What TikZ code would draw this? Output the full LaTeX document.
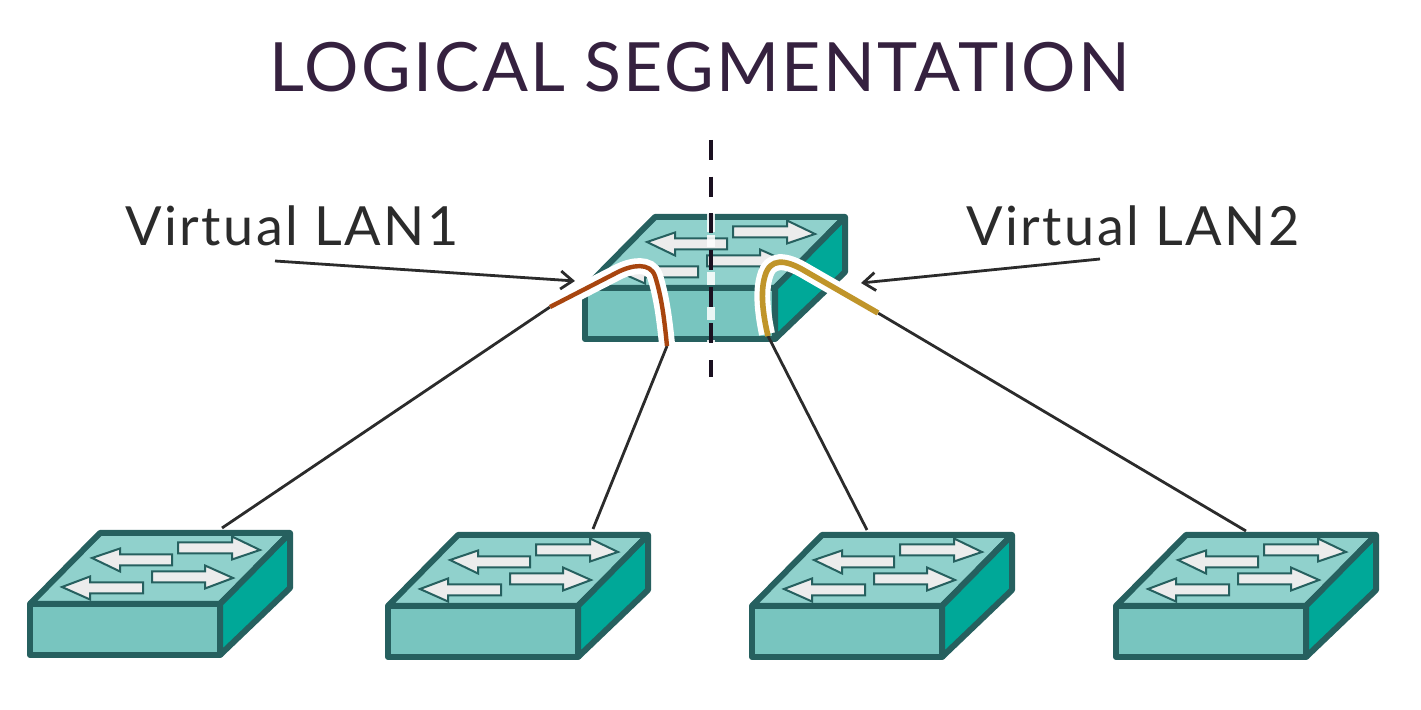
\documentclass[tikz,border=0pt]{standalone}
\usepackage{fontspec}
\usepackage{tikz}
\usetikzlibrary{arrows.meta}
\setmainfont{Lato}

\definecolor{swFront}{HTML}{78C5BF}
\definecolor{swTop}{HTML}{90D1CC}
\definecolor{swSide}{HTML}{00A898}
\definecolor{swEdge}{HTML}{26605F}
\definecolor{swArrow}{HTML}{ECECEC}
\definecolor{titleInk}{HTML}{35213F}
\definecolor{labelInk}{HTML}{2B2B2B}
\definecolor{dividerInk}{HTML}{1A1020}
\definecolor{cableOne}{HTML}{A8450F}
\definecolor{cableTwo}{HTML}{C0952A}

\tikzset{
  SwitchFace/.style={draw=swEdge,line width=3pt,line join=round},
  SwitchFront/.style={SwitchFace,fill=swFront,anchor=north west,inner sep=0pt,outer sep=0pt,
    minimum width=95pt,minimum height=25.5pt},
  SwitchArrow/.style={draw=swEdge,line width=1pt,fill=swArrow,line join=miter},
  LeaderLine/.style={draw=labelInk,line width=1.4pt},
  LabelArrow/.style={LeaderLine,-{Straight Barb[length=6pt,width=9pt,line width=1.4pt]}},
  CableHalo/.style={draw=white,line width=8pt},
  LanLabel/.style={text=labelInk,font=\fontsize{27}{27}\selectfont\addfontfeatures{LetterSpace=4.4},inner sep=0pt}
}

% one switch, #1 = name, #2,#3 = top left of the front face
\newcommand{\SwitchBox}[3]{
  \node[SwitchFront] (#1) at (#2,#3) {};
  \begin{scope}[shift={(#2,#3)}]
    \draw[SwitchFace,fill=swTop] (0,0) -- (70,-71) -- (260,-71) -- (190,0) -- cycle;
    \draw[SwitchFace,fill=swSide] (190,0) -- (260,-71) -- (260,-16) -- (190,51) -- cycle;
    \foreach \xa/\ya/\xb/\yb in {142/-44/62/-46, 148/-56/230/-54, 122/-27/203/-26, 113/-16/32/-17}{
      \pgfmathsetmacro{\dirn}{(\xb>\xa)?1:-1}
      \draw[SwitchArrow] (\xa,\ya-5.5) -- (\xb-28*\dirn,\ya-5.5) -- (\xb-28*\dirn,\ya-11.5)
        -- (\xb,\yb) -- (\xb-28*\dirn,\ya+11.5) -- (\xb-28*\dirn,\ya+5.5) -- (\xa,\ya+5.5) -- cycle;
    }
  \end{scope}
}

\begin{document}
\begin{tikzpicture}[scale=0.50,x=1pt,y=-1pt]

\useasboundingbox (0,0) rectangle (1421,710);

\node[text=titleInk,font=\fontsize{34}{34}\selectfont\addfontfeatures{LetterSpace=3.2},inner sep=0pt] (title) at (700,67) {LOGICAL SEGMENTATION};
\node[LanLabel] (lanOne) at (292,226) {Virtual LAN1};
\node[LanLabel] (lanTwo) at (1133,226) {Virtual LAN2};

\SwitchBox{hub}{585}{288}
\SwitchBox{swA}{30}{604}
\SwitchBox{swB}{388}{606}
\SwitchBox{swC}{752}{606}
\SwitchBox{swD}{1116}{606}

% white gaps behind the divider
\foreach \ya/\yb in {213/232, 235/247, 272/285, 307/320, 340/347}{
  \draw[draw=white,line width=4pt,opacity=0.85] (711,\ya) -- (711,\yb);
}
\draw[draw=dividerInk,line width=2.4pt,dash pattern=on 10pt off 8.35pt] (711,140) -- (711,377);

\coordinate (cableOneA) at (550,307);
\coordinate (cableOneB) at (667,346);
\coordinate (cableTwoA) at (878,313);
\coordinate (cableTwoB) at (768,336);
\coordinate (portA) at (222,528);
\coordinate (portB) at (593,529);
\coordinate (portC) at (867,530);
\coordinate (portD) at (1246,531);
\coordinate (lanOneTail) at (275,261);
\coordinate (lanOneTip) at (575,281);
\coordinate (lanTwoTail) at (1100,259);
\coordinate (lanTwoTip) at (861,283);

\draw[LeaderLine] (cableOneA) -- (portA);
\draw[LeaderLine] (cableOneB) -- (portB);
\draw[LeaderLine] (cableTwoB) -- (portC);
\draw[LeaderLine] (cableTwoA) -- (portD);

\draw[CableHalo] (cableOneA) -- (618,272) .. controls (632,265) and (650,262) .. (655,276) .. controls (661,295) and (664,315) .. (667,344);
\draw[draw=cableOne,line width=2.2pt] (cableOneA) -- (618,272) .. controls (632,265) and (650,262) .. (655,276) .. controls (661,295) and (664,315) .. (cableOneB);

\draw[CableHalo] (cableTwoA) -- (805,271) .. controls (785,259) and (770,258) .. (765,276) .. controls (760,292) and (763,315) .. (767,334);
\draw[draw=cableTwo,line width=2.8pt] (cableTwoA) -- (805,271) .. controls (785,259) and (770,258) .. (765,276) .. controls (760,292) and (763,315) .. (cableTwoB);

\draw[LabelArrow] (lanOneTail) -- (lanOneTip);
\draw[LabelArrow] (lanTwoTail) -- (lanTwoTip);

\end{tikzpicture}
\end{document}
